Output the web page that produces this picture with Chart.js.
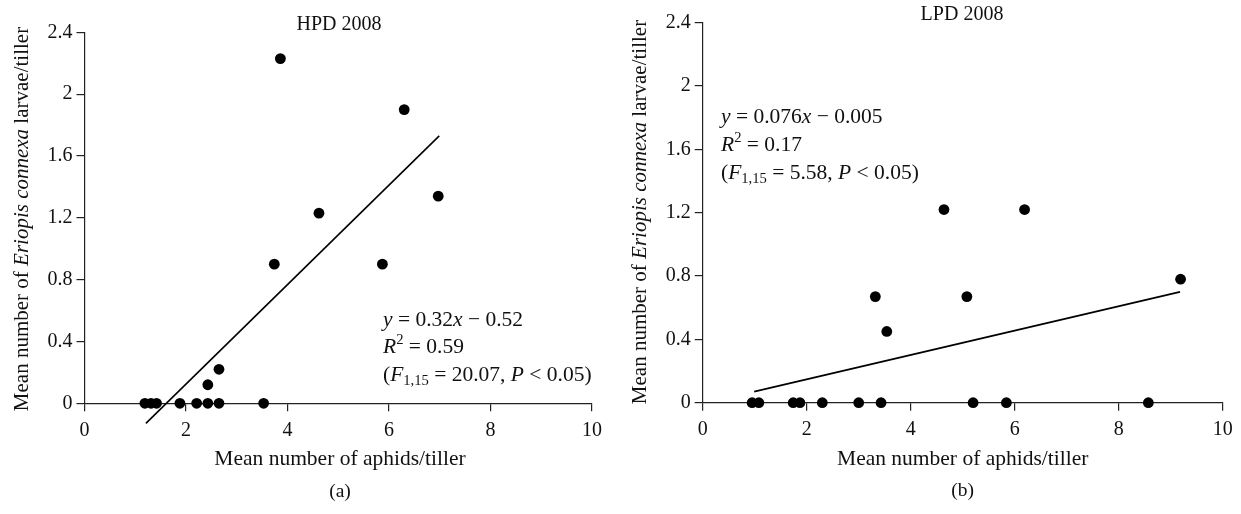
<!DOCTYPE html>
<html><head><meta charset="utf-8">
<script src="https://cdn.jsdelivr.net/npm/chart.js@4.4.1/dist/chart.umd.min.js"></script>
<style>
html,body{margin:0;padding:0;background:#fff;width:1241px;height:514px;overflow:hidden}
.panel{position:absolute;top:0;height:514px}
#p1{left:0;width:620px}
#p2{left:620px;width:621px}
</style></head><body>
<div class="panel" id="p1"><canvas id="c1"></canvas></div>
<div class="panel" id="p2"><canvas id="c2"></canvas></div>
<script>
const xTickValues = [0, 2, 4, 6, 8, 10];
const xTickLabels = ['0', '2', '4', '6', '8', '10'];
const yTickValues = [0, 0.4, 0.8, 1.2, 1.6, 2, 2.4];
const yTickLabels = ['0', '0.4', '0.8', '1.2', '1.6', '2', '2.4'];

const hpdAphids = [1.19, 1.31, 1.42, 1.88, 2.21, 2.43, 2.43, 2.65, 2.65, 3.53, 3.74, 3.86, 4.62, 5.87, 6.30, 6.97];
const hpdLarvae = [0, 0, 0, 0, 0, 0, 0.12, 0, 0.22, 0, 0.90, 2.23, 1.23, 0.90, 1.90, 1.34];
const hpdFitX = [1.21, 6.99];
const hpdFitY = [-0.13, 1.73];

const lpdAphids = [0.95, 1.08, 1.74, 1.87, 2.30, 3.00, 3.43, 5.20, 5.84, 8.57, 3.32, 3.54, 4.64, 5.08, 6.19, 9.19];
const lpdLarvae = [0, 0, 0, 0, 0, 0, 0, 0, 0, 0, 0.67, 0.45, 1.22, 0.67, 1.22, 0.78];
const lpdFitX = [0.99, 9.18];
const lpdFitY = [0.07, 0.70];

const FAMILY = '"Liberation Serif", "Times New Roman", serif';
const INK = '#111';

function segWidth(ctx, segs, size) {
  let w = 0;
  for (const s of segs) {
    const sz = (s.sub || s.sup) ? size * 0.68 : size;
    ctx.font = (s.i ? 'italic ' : '') + sz + 'px ' + FAMILY;
    w += ctx.measureText(s.t).width;
  }
  return w;
}
function drawSegs(ctx, segs, x, y, size, align) {
  let cx = x;
  if (align === 'center') cx = x - segWidth(ctx, segs, size) / 2;
  ctx.textBaseline = 'middle';
  ctx.textAlign = 'left';
  ctx.fillStyle = INK;
  for (const s of segs) {
    const sz = (s.sub || s.sup) ? size * 0.68 : size;
    ctx.font = (s.i ? 'italic ' : '') + sz + 'px ' + FAMILY;
    let dy = 0;
    if (s.sub) dy = size * 0.28;
    if (s.sup) dy = -size * 0.34;
    ctx.fillText(s.t, cx, y + dy);
    cx += ctx.measureText(s.t).width;
  }
}

const yTitleSegs = [{t: 'Mean number of '}, {t: 'Eriopis connexa', i: true}, {t: ' larvae/tiller'}];
const xTitleSegs = [{t: 'Mean number of aphids/tiller'}];

function textPlugin(cfg) {
  return {
    id: 'texts',
    afterDraw(chart) {
      const ctx = chart.ctx;
      ctx.save();
      drawSegs(ctx, [{t: cfg.title}], cfg.titleX, cfg.titleY, 20, 'center');
      drawSegs(ctx, xTitleSegs, cfg.xTitleX, cfg.xTitleY, 21.5, 'center');
      drawSegs(ctx, [{t: cfg.label}], cfg.xTitleX, cfg.labelY, 19.5, 'center');
      ctx.save();
      ctx.translate(cfg.yTitleX, cfg.yTitleY);
      ctx.rotate(-Math.PI / 2);
      drawSegs(ctx, yTitleSegs, 0, 0, 21, 'center');
      ctx.restore();
      cfg.ann.forEach((line, k) => drawSegs(ctx, line, cfg.annX, cfg.annY + k * cfg.annGap, 21.5, 'left'));
      ctx.restore();
    }
  };
}

function makeChart(id, aphids, larvae, fitX, fitY, lay, cfg) {
  const pts = aphids.map((x, i) => ({x: x, y: larvae[i]}));
  const fit = fitX.map((x, i) => ({x: x, y: fitY[i]}));
  const axisCommon = {
    type: 'linear',
    grid: {display: true, drawOnChartArea: false, drawTicks: true, tickLength: 8, color: '#222', lineWidth: 1.2},
    border: {display: true, color: '#222', width: 1.2},
  };
  return new Chart(document.getElementById(id), {
    type: 'scatter',
    data: {
      datasets: [
        {data: pts, pointRadius: 5.4, pointHoverRadius: 5.4, backgroundColor: '#000', borderWidth: 0, clip: false},
        {data: fit, showLine: true, pointRadius: 0, borderColor: '#000', borderWidth: 1.6, fill: false, clip: false}
      ]
    },
    options: {
      responsive: true, maintainAspectRatio: false, animation: false,
      layout: {padding: {left: 0, right: lay.right, top: lay.top, bottom: 0}},
      plugins: {legend: {display: false}, tooltip: {enabled: false}, title: {display: false}},
      scales: {
        x: Object.assign({}, axisCommon, {
          min: 0, max: 10,
          afterBuildTicks: s => { s.ticks = xTickValues.map(v => ({value: v})); },
          ticks: {font: {family: FAMILY, size: 20}, color: INK, padding: 7, maxRotation: 0,
                  callback: (v, i) => xTickLabels[i]},
          afterFit: s => { s.height = lay.xH; }
        }),
        y: Object.assign({}, axisCommon, {
          min: 0, max: 2.4,
          afterBuildTicks: s => { s.ticks = yTickValues.map(v => ({value: v})); },
          ticks: {font: {family: FAMILY, size: 20}, color: INK, padding: 4,
                  callback: (v, i) => yTickLabels[i]},
          afterFit: s => { s.width = lay.yW; }
        })
      }
    },
    plugins: [textPlugin(cfg)]
  });
}

makeChart('c1', hpdAphids, hpdLarvae, hpdFitX, hpdFitY,
  {right: 28, top: 32.3, xH: 514 - 403.3, yW: 84.5},
  {title: 'HPD 2008', titleX: 339, titleY: 25, xTitleX: 340, xTitleY: 459, label: '(a)', labelY: 492,
   yTitleX: 22, yTitleY: 219, annX: 383, annY: 320, annGap: 27.5,
   ann: [
     [{t: 'y', i: true}, {t: ' = 0.32'}, {t: 'x', i: true}, {t: ' \u2212 0.52'}],
     [{t: 'R', i: true}, {t: '2', sup: true}, {t: ' = 0.59'}],
     [{t: '('}, {t: 'F', i: true}, {t: '1,15', sub: true}, {t: ' = 20.07, '}, {t: 'P', i: true}, {t: ' < 0.05)'}]
   ]});

makeChart('c2', lpdAphids, lpdLarvae, lpdFitX, lpdFitY,
  {right: 18.3, top: 22.7, xH: 514 - 402.7, yW: 82.7},
  {title: 'LPD 2008', titleX: 342, titleY: 15, xTitleX: 342.7, xTitleY: 459, label: '(b)', labelY: 491,
   yTitleX: 20.7, yTitleY: 212, annX: 101, annY: 117.5, annGap: 28,
   ann: [
     [{t: 'y', i: true}, {t: ' = 0.076'}, {t: 'x', i: true}, {t: ' \u2212 0.005'}],
     [{t: 'R', i: true}, {t: '2', sup: true}, {t: ' = 0.17'}],
     [{t: '('}, {t: 'F', i: true}, {t: '1,15', sub: true}, {t: ' = 5.58, '}, {t: 'P', i: true}, {t: ' < 0.05)'}]
   ]});
</script>
</body></html>
